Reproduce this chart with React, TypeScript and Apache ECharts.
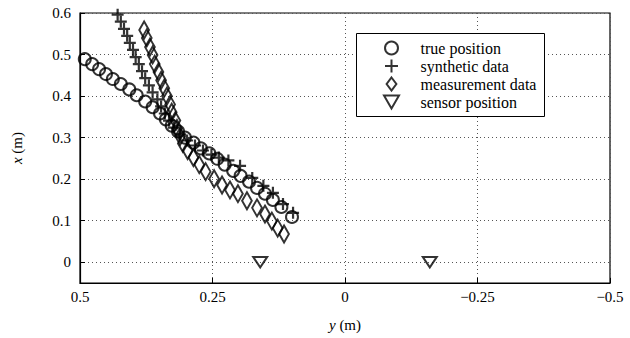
import React, { useEffect, useRef } from "react";
import * as echarts from "echarts";

// [y (m), x (m)]
const truePosition: number[][] = [
  [0.491, 0.489], [0.477, 0.477], [0.464, 0.465], [0.451, 0.453], [0.438, 0.441],
  [0.423, 0.429], [0.407, 0.416], [0.393, 0.402], [0.377, 0.387], [0.363, 0.373],
  [0.349, 0.358], [0.338, 0.344], [0.327, 0.329], [0.315, 0.315], [0.302, 0.3],
  [0.286, 0.288], [0.272, 0.274], [0.256, 0.262], [0.241, 0.249], [0.227, 0.235],
  [0.211, 0.22], [0.197, 0.208], [0.181, 0.194], [0.166, 0.179], [0.151, 0.165],
  [0.136, 0.15], [0.12, 0.133], [0.1, 0.109],
];

const syntheticData: number[][] = [
  [0.429, 0.596], [0.423, 0.579], [0.417, 0.562], [0.411, 0.545], [0.406, 0.528],
  [0.4, 0.511], [0.395, 0.494], [0.389, 0.477], [0.383, 0.46], [0.377, 0.443],
  [0.37, 0.426], [0.363, 0.409], [0.354, 0.392], [0.347, 0.375], [0.34, 0.358],
  [0.332, 0.341], [0.323, 0.324], [0.311, 0.308], [0.298, 0.293], [0.283, 0.281],
  [0.268, 0.269], [0.252, 0.259], [0.238, 0.252], [0.22, 0.245], [0.198, 0.232],
  [0.175, 0.203], [0.154, 0.184], [0.136, 0.167], [0.117, 0.14], [0.098, 0.119],
];

const measurementData: number[][] = [
  [0.379, 0.559], [0.374, 0.54], [0.368, 0.518], [0.363, 0.499], [0.359, 0.477],
  [0.352, 0.458], [0.347, 0.438], [0.341, 0.419], [0.336, 0.4], [0.33, 0.38],
  [0.327, 0.361], [0.32, 0.341], [0.317, 0.322], [0.311, 0.303], [0.306, 0.286],
  [0.297, 0.269], [0.286, 0.252], [0.275, 0.235], [0.263, 0.218], [0.247, 0.201],
  [0.232, 0.186], [0.217, 0.174], [0.202, 0.165], [0.185, 0.148], [0.166, 0.131],
  [0.151, 0.116], [0.138, 0.099], [0.127, 0.082], [0.115, 0.068],
];

const sensorPosition: number[][] = [
  [0.16, 0],
  [-0.16, 0],
];

const yTicks = [0, 0.1, 0.2, 0.3, 0.4, 0.5, 0.6];
const legendNames = ["true position", "synthetic data", "measurement data", "sensor position"];

const FONT = "Liberation Serif";

export default function App() {
  const ref = useRef<HTMLDivElement>(null);
  useEffect(() => {
    if (!ref.current) return;
    const chart = echarts.init(ref.current, null, { renderer: "svg" });
    const hollow = { color: "transparent", borderColor: "#000", borderWidth: 2 };
    const label = { fontFamily: FONT, fontSize: 15, color: "#000" };
    chart.setOption({
      animation: false,
      backgroundColor: "#fff",
      grid: {
        left: 80,
        right: 20,
        top: 13,
        bottom: 55,
        show: true,
        borderColor: "#000",
        borderWidth: 1.2,
        backgroundColor: "transparent",
      },
      graphic: [
        {
          type: "rect",
          left: 356,
          top: 33,
          z: 3,
          shape: { width: 188, height: 83 },
          style: { fill: "#fff", stroke: "#000", lineWidth: 1 },
        },
      ],
      legend: {
        orient: "vertical",
        left: 383,
        top: 40,
        padding: 0,
        itemWidth: 48,
        itemHeight: 13,
        itemGap: 2,
        textStyle: { fontFamily: FONT, fontSize: 16, color: "#000" },
        data: legendNames,
      },
      xAxis: {
        type: "value",
        min: -0.5,
        max: 0.5,
        interval: 0.25,
        inverse: true,
        name: "{i|y} (m)",
        nameLocation: "middle",
        nameGap: 34,
        nameTextStyle: {
          ...label,
          rich: { i: { ...label, fontStyle: "italic" } },
        },
        axisLine: { show: true, onZero: false, lineStyle: { color: "#000", width: 1.2 } },
        axisTick: { show: true, inside: true, length: 5, lineStyle: { color: "#000" } },
        axisLabel: {
          ...label,
          margin: 6,
          formatter: (v: number) => (v === 0 ? "0" : (v < 0 ? "\u2212" : "") + String(Math.abs(v))),
        },
        splitLine: { show: true, lineStyle: { color: "#555", type: [1, 3], width: 1 } },
      },
      yAxis: {
        type: "value",
        min: -0.05,
        max: 0.6,
        name: "{i|x} (m)",
        nameLocation: "middle",
        nameGap: 56,
        nameRotate: 90,
        nameTextStyle: {
          ...label,
          rich: { i: { ...label, fontStyle: "italic" } },
        },
        axisLine: { show: true, onZero: false, lineStyle: { color: "#000", width: 1.2 } },
        axisTick: { show: true, inside: true, length: 5, customValues: yTicks, lineStyle: { color: "#000" } },
        axisLabel: {
          ...label,
          margin: 9,
          customValues: yTicks,
          formatter: (v: number) => String(Math.round(v * 10) / 10),
        },
        splitLine: { show: true, lineStyle: { color: "#555", type: [1, 3], width: 1 } },
      },
      series: [
        {
          name: legendNames[0],
          type: "scatter",
          data: truePosition,
          symbol: "circle",
          symbolSize: 12,
          itemStyle: hollow,
        },
        {
          name: legendNames[1],
          type: "scatter",
          data: syntheticData,
          symbol: "path://M5,0 L5,10 M0,5 L10,5",
          symbolSize: 12,
          itemStyle: { ...hollow, borderWidth: 2.2 },
        },
        {
          name: legendNames[2],
          type: "scatter",
          data: measurementData,
          symbol: "path://M6,0 L12,8 L6,16 L0,8 Z",
          symbolSize: [13, 17],
          symbolKeepAspect: true,
          itemStyle: hollow,
        },
        {
          name: legendNames[3],
          type: "scatter",
          data: sensorPosition,
          symbol: "path://M0,0 L12,0 L6,10.4 Z",
          symbolSize: [14, 12],
          symbolKeepAspect: true,
          itemStyle: hollow,
        },
      ],
    });
    return () => chart.dispose();
  }, []);
  return (
    <div
      ref={ref}
      style={{ position: "fixed", left: 0, top: 0, width: 630, height: 338, background: "#fff" }}
    />
  );
}
